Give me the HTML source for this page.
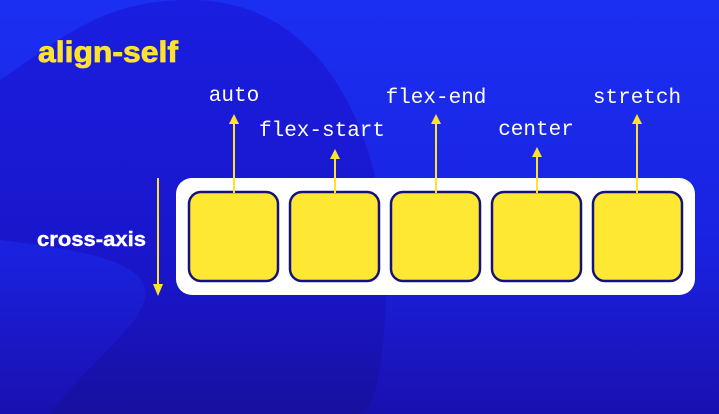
<!DOCTYPE html>
<html><head><style>
html,body{margin:0;padding:0;width:719px;height:414px;overflow:hidden;background:#1a1fd8}
svg{display:block}
</style></head><body>
<svg width="719" height="414" viewBox="0 0 719 414" xmlns="http://www.w3.org/2000/svg">
<defs>
<linearGradient id="bg" x1="0" y1="0" x2="0" y2="1">
<stop offset="0" stop-color="#1b2ff2"/><stop offset="0.6" stop-color="#1a22e0"/><stop offset="1" stop-color="#1a10b0"/>
</linearGradient>
<linearGradient id="blob" x1="0" y1="0" x2="0" y2="1">
<stop offset="0" stop-color="#1a1ee0"/><stop offset="0.7" stop-color="#1915c8"/><stop offset="1" stop-color="#18109e"/>
</linearGradient>
</defs>
<rect width="719" height="414" fill="url(#bg)"/>
<path d="M0 80 C60 40 100 0 190 0 C300 0 360 90 380 200 C395 300 380 414 360 414 L50 414 C90 360 150 320 145 290 C140 260 80 250 0 240 Z" fill="url(#blob)"/>
<text x="38" y="62" font-family="Liberation Sans, sans-serif" font-weight="bold" font-size="30" fill="#ffe22e" stroke="#ffe22e" stroke-width="0.8" textLength="140" lengthAdjust="spacingAndGlyphs">align-self</text>
<text x="37" y="246" font-family="Liberation Sans, sans-serif" font-weight="bold" font-size="20" fill="#fff" stroke="#fff" stroke-width="0.4" textLength="109" lengthAdjust="spacingAndGlyphs">cross-axis</text>
<line x1="158" y1="178" x2="158" y2="286" stroke="#ffe22e" stroke-width="2"/>
<polygon points="153,284 163,284 158,296" fill="#ffe22e"/>
<rect x="176" y="178" width="519" height="117" rx="16" fill="#fff"/>
<g fill="#ffe833" stroke="#15137a" stroke-width="2.5">
<rect x="189" y="192" width="89" height="89" rx="12"/>
<rect x="290" y="192" width="89" height="89" rx="12"/>
<rect x="391" y="192" width="89" height="89" rx="12"/>
<rect x="492" y="192" width="89" height="89" rx="12"/>
<rect x="593" y="192" width="89" height="89" rx="12"/>
</g>
<g stroke="#ffe22e" stroke-width="2">
<line x1="234" y1="193" x2="234" y2="122"/>
<line x1="335" y1="193" x2="335" y2="157"/>
<line x1="436" y1="193" x2="436" y2="122"/>
<line x1="537" y1="193" x2="537" y2="155"/>
<line x1="637" y1="193" x2="637" y2="122"/>
</g>
<g fill="#ffe22e">
<polygon points="229,124 239,124 234,114"/>
<polygon points="330,159 340,159 335,149"/>
<polygon points="431,124 441,124 436,114"/>
<polygon points="532,157 542,157 537,147"/>
<polygon points="632,124 642,124 637,114"/>
</g>
<g font-family="Liberation Mono, monospace" font-size="21" fill="#fff" text-anchor="middle">
<text x="234" y="101">auto</text>
<text x="322" y="136">flex-start</text>
<text x="436" y="103">flex-end</text>
<text x="536" y="135">center</text>
<text x="637" y="103">stretch</text>
</g>
</svg>
</body></html>
